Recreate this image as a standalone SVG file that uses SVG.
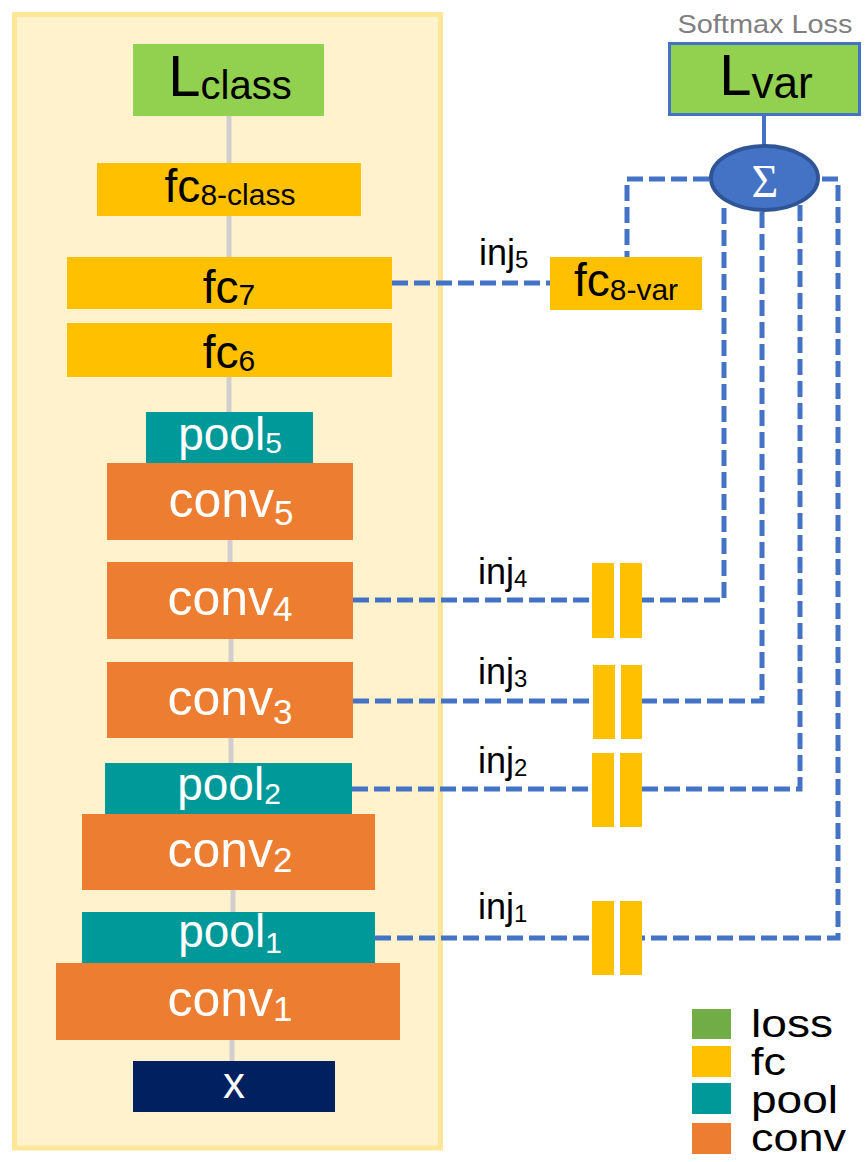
<svg xmlns="http://www.w3.org/2000/svg" width="868" height="1162" viewBox="0 0 868 1162">
<style>
text{font-family:"Liberation Sans",Arial,sans-serif;text-anchor:middle}
.b{fill:#000}
.w{fill:#fff}
.loss{fill:#92D050}
.fc{fill:#FFC000}
.pool{fill:#009999}
.conv{fill:#ED7D31}
.gl{stroke:#D0CECE;stroke-width:5;fill:none}
.dl{stroke:#4472C4;stroke-width:5;fill:none;stroke-dasharray:16 6}
.lab{font-size:36px;text-anchor:start}
.leg{font-size:38px;text-anchor:start}
</style>
<rect id="panel" x="14.5" y="14.5" width="426" height="1133.5" fill="#FFF2CC" stroke="#FFE699" stroke-width="5"/>
<g id="backbone">
<line class="gl" x1="229" y1="116" x2="229" y2="163"/>
<line class="gl" x1="229" y1="216" x2="229" y2="257"/>
<line class="gl" x1="229" y1="377" x2="229" y2="412"/>
<line class="gl" x1="230" y1="540" x2="230" y2="562"/>
<line class="gl" x1="231" y1="639" x2="231" y2="662"/>
<line class="gl" x1="231" y1="738" x2="231" y2="763"/>
<line class="gl" x1="233" y1="890" x2="233" y2="912"/>
<line class="gl" x1="232" y1="1040" x2="232" y2="1061"/>
</g>
<g id="connectors">
<line x1="764" y1="115" x2="764" y2="146" stroke="#4472C4" stroke-width="4"/>
<polyline class="dl" points="392,283 550,283"/>
<polyline class="dl" points="709,179 627,179 627,257"/>
<polyline class="dl" points="822,179 838,179 838,938 642,938"/>
<polyline class="dl" points="800,205 800,789 642,789"/>
<polyline class="dl" points="762,212 762,701 642,701"/>
<polyline class="dl" points="724,208 724,600 642,600"/>
<line class="dl" x1="353" y1="600" x2="592" y2="600"/>
<line class="dl" x1="353" y1="701" x2="592" y2="701"/>
<line class="dl" x1="352" y1="789" x2="592" y2="789"/>
<line class="dl" x1="375" y1="938" x2="592" y2="938"/>
</g>
<g id="Lclass"><rect class="loss" x="133" y="44" width="191" height="72"/><text class="b" x="230" y="96" font-size="58">L<tspan font-size="40" dy="3">class</tspan></text></g>
<g id="fc8class"><rect class="fc" x="97" y="163" width="264" height="53"/><text class="b" x="230" y="202" font-size="46">fc<tspan font-size="30" dy="3">8-class</tspan></text></g>
<g id="fc7"><rect class="fc" x="67" y="257" width="325" height="52"/><text class="b" x="229" y="303" font-size="46">fc<tspan font-size="30" dy="2">7</tspan></text></g>
<g id="fc6"><rect class="fc" x="67" y="323" width="325" height="54"/><text class="b" x="229" y="368" font-size="46">fc<tspan font-size="30" dy="3">6</tspan></text></g>
<g id="pool5"><rect class="pool" x="146" y="412" width="167" height="52"/><text class="w" x="230" y="450" font-size="46">pool<tspan font-size="30" dy="3">5</tspan></text></g>
<g id="conv5"><rect class="conv" x="107" y="463" width="246" height="77"/><text class="w" x="231" y="517" font-size="50">conv<tspan font-size="35" dy="8">5</tspan></text></g>
<g id="conv4"><rect class="conv" x="107" y="562" width="246" height="77"/><text class="w" x="230" y="615" font-size="50">conv<tspan font-size="35" dy="6">4</tspan></text></g>
<g id="conv3"><rect class="conv" x="107" y="662" width="246" height="76"/><text class="w" x="230" y="715" font-size="50">conv<tspan font-size="35" dy="9">3</tspan></text></g>
<g id="pool2"><rect class="pool" x="105" y="763" width="247" height="51"/><text class="w" x="229" y="800" font-size="46">pool<tspan font-size="30" dy="4">2</tspan></text></g>
<g id="conv2"><rect class="conv" x="82" y="814" width="293" height="76"/><text class="w" x="230" y="867" font-size="50">conv<tspan font-size="35" dy="5">2</tspan></text></g>
<g id="pool1"><rect class="pool" x="82" y="912" width="293" height="51"/><text class="w" x="230" y="947" font-size="46">pool<tspan font-size="30" dy="6">1</tspan></text></g>
<g id="conv1"><rect class="conv" x="56" y="963" width="344" height="77"/><text class="w" x="230" y="1016" font-size="50">conv<tspan font-size="35" dy="5">1</tspan></text></g>
<g id="x"><rect x="133" y="1061" width="202" height="51" fill="#002060"/><text class="w" x="234" y="1098" font-size="44">x</text></g>
<g id="softmax"><text x="765" y="33" font-size="26" fill="#7F7F7F" textLength="175" lengthAdjust="spacingAndGlyphs">Softmax Loss</text></g>
<g id="Lvar"><rect class="loss" x="669.5" y="43.5" width="190" height="71" stroke="#4472C4" stroke-width="3"/><text class="b" x="766" y="95" font-size="58">L<tspan font-size="44" dy="3">var</tspan></text></g>
<g id="sum"><ellipse cx="764.5" cy="178" rx="53.5" ry="32" fill="#4472C4" stroke="#2F5597" stroke-width="4"/><text x="765" y="197" font-size="46" fill="#fff" style="font-family:'Liberation Serif','Times New Roman',serif">Σ</text></g>
<g id="fc8var"><rect class="fc" x="550" y="257" width="152" height="53"/><text class="b" x="626" y="296" font-size="46">fc<tspan font-size="30" dy="4">8-var</tspan></text></g>
<g id="inj4bars"><rect class="fc" x="592" y="563" width="22" height="75"/><rect class="fc" x="620" y="563" width="22" height="75"/></g>
<g id="inj3bars"><rect class="fc" x="593" y="665" width="22" height="74"/><rect class="fc" x="621" y="665" width="21" height="74"/></g>
<g id="inj2bars"><rect class="fc" x="592" y="753" width="22" height="74"/><rect class="fc" x="620" y="753" width="22" height="74"/></g>
<g id="inj1bars"><rect class="fc" x="592" y="901" width="22" height="74"/><rect class="fc" x="620" y="901" width="22" height="74"/></g>
<g id="labels">
<text class="lab b" x="479" y="265">inj<tspan font-size="24" dy="3">5</tspan></text>
<text class="lab b" x="478" y="584">inj<tspan font-size="24" dy="3">4</tspan></text>
<text class="lab b" x="478" y="684">inj<tspan font-size="24" dy="3">3</tspan></text>
<text class="lab b" x="478" y="773">inj<tspan font-size="24" dy="3">2</tspan></text>
<text class="lab b" x="478" y="919">inj<tspan font-size="24" dy="3">1</tspan></text>
</g>
<g id="legend">
<rect x="692" y="1009" width="39" height="30" fill="#70AD47"/>
<rect class="fc" x="692" y="1046" width="39" height="31"/>
<rect class="pool" x="692" y="1083" width="39" height="31"/>
<rect class="conv" x="692" y="1123" width="39" height="31"/>
<text class="leg b" x="751" y="1037" textLength="82" lengthAdjust="spacingAndGlyphs">loss</text>
<text class="leg b" x="751" y="1075" textLength="35" lengthAdjust="spacingAndGlyphs">fc</text>
<text class="leg b" x="751" y="1113" textLength="87" lengthAdjust="spacingAndGlyphs">pool</text>
<text class="leg b" x="751" y="1151" textLength="95" lengthAdjust="spacingAndGlyphs">conv</text>
</g>
</svg>
